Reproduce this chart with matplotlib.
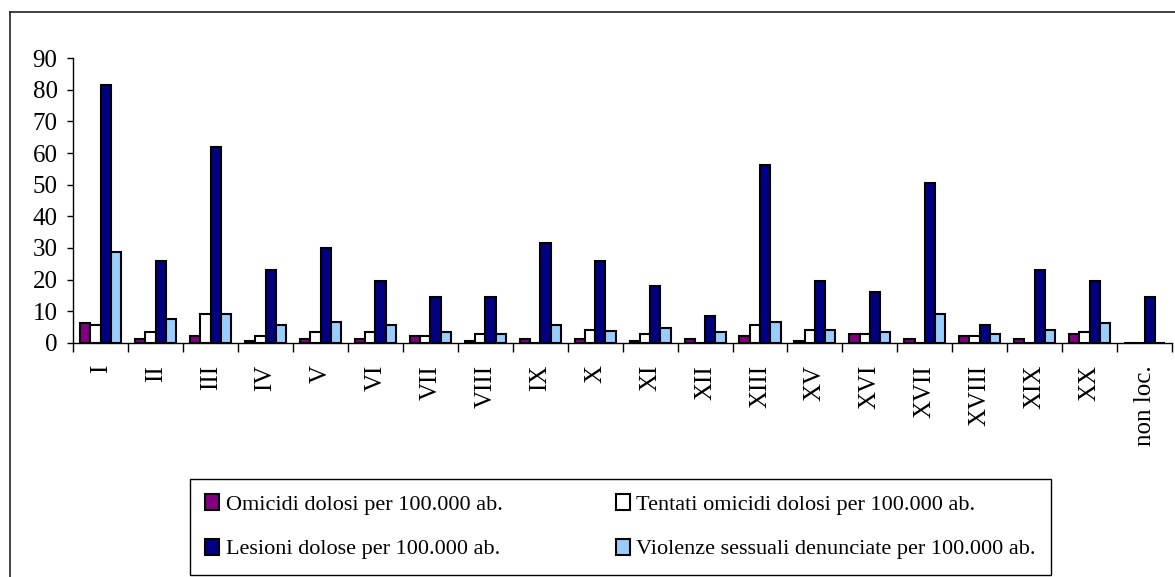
import numpy as np
import matplotlib
matplotlib.use("Agg")
import matplotlib.pyplot as plt
from matplotlib.lines import Line2D

plt.rcParams['font.family'] = ['Liberation Serif', 'DejaVu Serif']

categories = ["I", "II", "III", "IV", "V", "VI", "VII", "VIII", "IX", "X",
              "XI", "XII", "XIII", "XV", "XVI", "XVII", "XVIII", "XIX", "XX", "non loc."]

omicidi = [6.1, 1.2, 2.0, 0.6, 1.2, 1.2, 2.0, 0.6, 1.2, 1.2,
           0.6, 1.2, 2.0, 0.6, 2.6, 1.2, 2.0, 1.2, 2.6, 0.0]
tentati = [5.6, 3.3, 9.0, 2.0, 3.3, 3.3, 2.0, 2.6, 0.0, 4.0,
           2.6, 0.0, 5.6, 4.0, 2.6, 0.0, 2.0, 0.0, 3.3, 0.0]
lesioni = [81.5, 25.8, 61.8, 23.0, 30.0, 19.5, 14.6, 14.6, 31.4, 25.8,
           18.0, 8.3, 56.2, 19.5, 15.9, 50.6, 5.6, 23.0, 19.5, 14.6]
violenze = [28.6, 7.5, 9.0, 5.6, 6.7, 5.6, 3.3, 2.6, 5.6, 3.8,
            4.7, 3.3, 6.7, 4.0, 3.3, 9.0, 2.6, 4.0, 6.1, 0.0]

series_labels = ["Omicidi dolosi per 100.000 ab.",
                 "Tentati omicidi dolosi per 100.000 ab.",
                 "Lesioni dolose per 100.000 ab.",
                 "Violenze sessuali denunciate per 100.000 ab."]
series_colors = ["#800080", "#FFFFFF", "#000080", "#99CCFF"]
yticks = [0, 10, 20, 30, 40, 50, 60, 70, 80, 90]

W, H = 1175, 577
fig = plt.figure(figsize=(W / 100, H / 100), dpi=100)

# outer chart frame (top and left visible, right/bottom beyond the image)
fig.add_artist(Line2D([10 / W, 10 / W], [0, 1 - 11.5 / H], transform=fig.transFigure,
                      color="#222222", lw=1.2))
fig.add_artist(Line2D([10 / W, 1], [1 - 11.5 / H, 1 - 11.5 / H], transform=fig.transFigure,
                      color="#222222", lw=1.2))

left, right, top, bottom = 73.3, 1172.0, 58.3, 342.7
ax = fig.add_axes([left / W, 1 - bottom / H, (right - left) / W, (bottom - top) / H])

n = len(categories)
x = np.arange(n) + 0.5
bw = 0.187
all_series = [omicidi, tentati, lesioni, violenze]
handles = []
for k, (vals, col, lab) in enumerate(zip(all_series, series_colors, series_labels)):
    b = ax.bar(x + (k - 1.5) * bw, vals, width=bw, color=col, edgecolor="black",
               linewidth=1.5, label=lab, zorder=3)
    handles.append(b)

ax.set_xlim(0, n)
ax.set_ylim(0, 90)
ax.set_yticks(yticks)
ax.tick_params(axis="y", direction="out", length=4.3, width=1, labelsize=18, pad=7)

ax.set_xticks(np.arange(n + 1))
ax.set_xticklabels([])
ax.tick_params(axis="x", which="major", direction="out", length=6.5, width=1)
ax.set_xticks(x, minor=True)
ax.set_xticklabels(categories, minor=True, rotation=90, fontsize=18)
ax.tick_params(axis="x", which="minor", length=0, pad=16)

for s in ["top", "right"]:
    ax.spines[s].set_visible(False)
for s in ["left", "bottom"]:
    ax.spines[s].set_linewidth(1)

order = [0, 2, 1, 3]
leg = fig.legend([handles[i] for i in order], [series_labels[i] for i in order],
                 ncol=2, loc="upper left",
                 bbox_to_anchor=(190 / W, 1 - 573 / H, (1051 - 190) / W, 94 / H),
                 mode="expand", borderaxespad=0, fontsize=16,
                 fancybox=False, framealpha=1, edgecolor="black",
                 handlelength=0.63, handleheight=0.72, handletextpad=0.3,
                 labelspacing=1.08, borderpad=0.68, columnspacing=1.0)
leg.get_frame().set_linewidth(1)

fig.savefig("out.png", dpi=100)
